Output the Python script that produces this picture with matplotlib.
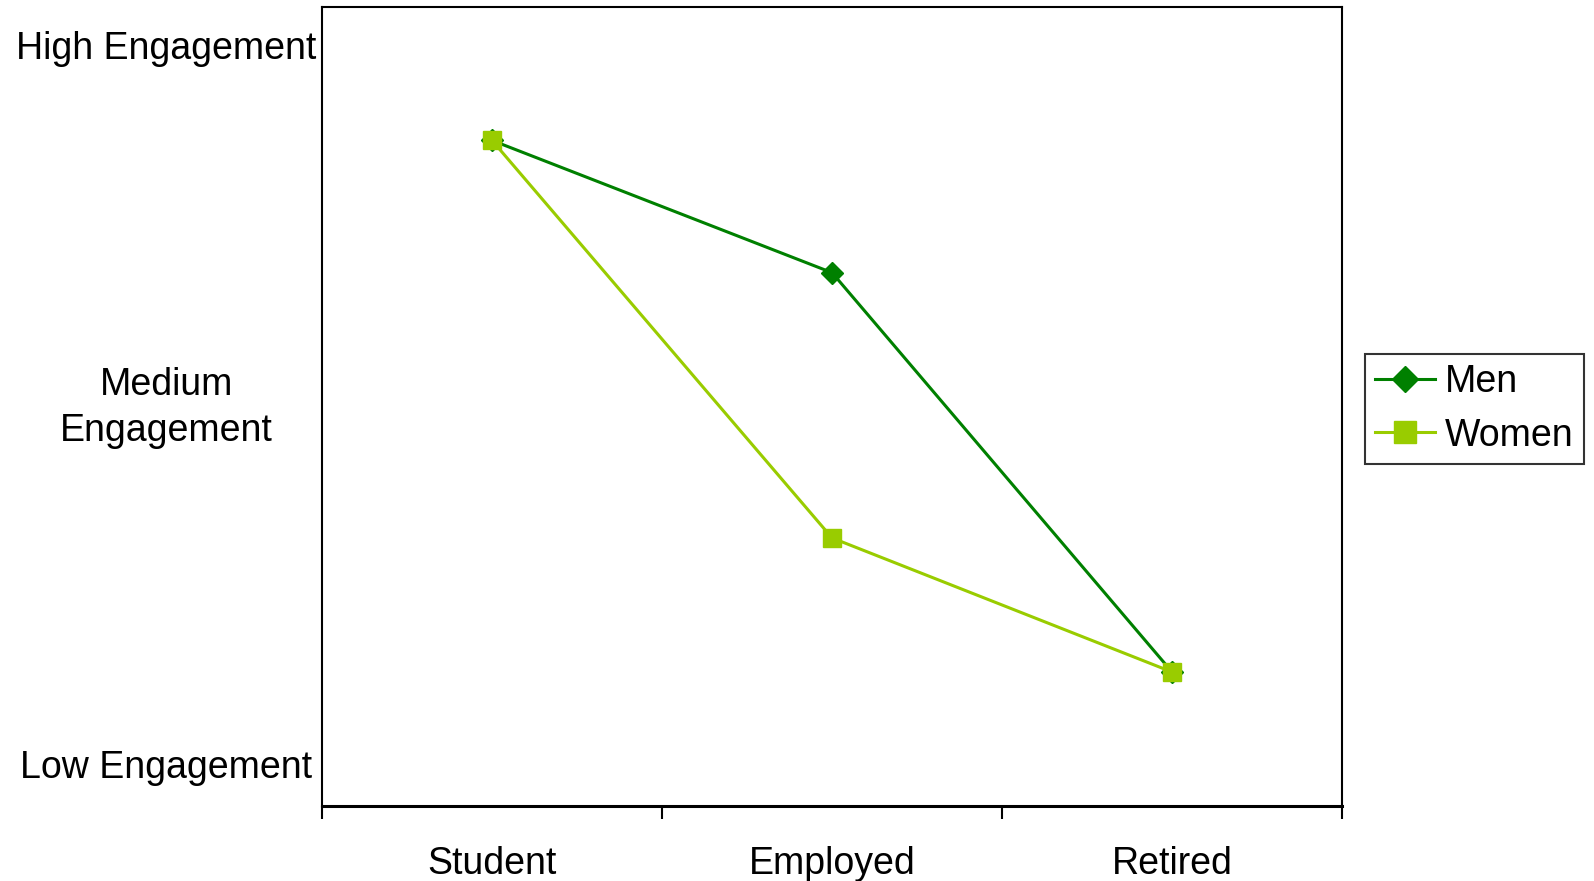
import matplotlib.pyplot as plt
import matplotlib.transforms as mtransforms
import numpy as np

plt.rcParams['font.family'] = ['Liberation Sans', 'DejaVu Sans']

# data
groups = ['Student', 'Employed', 'Retired']
men = [2.734, 2.366, 1.255]
women = [2.734, 1.628, 1.255]
level_names = ['Low Engagement', 'Medium\nEngagement', 'High Engagement']
level_vals = [1, 2, 3]

fig = plt.figure(figsize=(15.94, 8.81), dpi=100)
ax = fig.add_axes([0.202, 0.085, 0.640, 0.907])

x = np.arange(len(groups)) + 0.5
ax.plot(x, men, color='#008000', lw=2.2, marker='D', ms=11, label='Men')
ax.plot(x, women, color='#99CC00', lw=2.2, marker='s', ms=13, label='Women')

ax.set_xlim(0, 3)
ax.set_ylim(0.882, 3.105)

ax.set_xticks([0, 1, 2, 3])
ax.set_xticklabels([])
ax.set_xticks(x, minor=True)
ax.set_xticklabels(groups, minor=True, fontsize=27)
ax.tick_params(axis='x', which='major', direction='out', length=9, width=1.5)
ax.tick_params(axis='x', which='minor', length=0, pad=29)

ax.set_yticks(level_vals)
labs = ax.set_yticklabels(level_names, fontsize=27, ha='center', multialignment='center',
                          linespacing=1.35)
ax.tick_params(axis='y', length=0, pad=112)
# two-line label sits a little high in the original
labs[1].set_transform(labs[1].get_transform() +
                      mtransforms.ScaledTranslation(0, 5 / 100, fig.dpi_scale_trans))

for s in ax.spines.values():
    s.set_linewidth(1.5)
ax.spines['bottom'].set_linewidth(2.2)

leg = fig.legend(loc='center', bbox_to_anchor=(0.925, 0.536), fontsize=27,
                 frameon=True, fancybox=False, edgecolor='black',
                 handlelength=1.6, handletextpad=0.27, borderpad=0.27,
                 labelspacing=0.47, borderaxespad=0, markerscale=1.2)
leg.get_frame().set_linewidth(1.5)

fig.savefig('out.png', dpi=100)
